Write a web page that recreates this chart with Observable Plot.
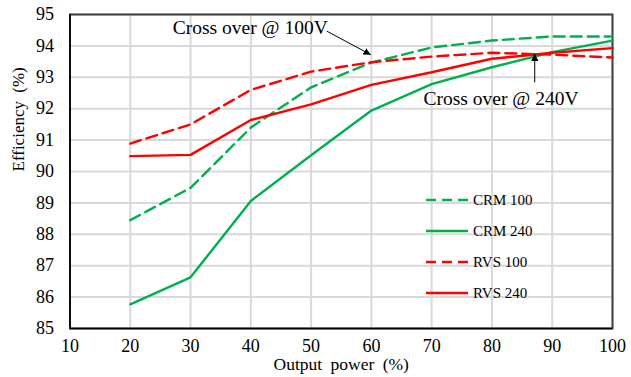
<!DOCTYPE html>
<html>
<head>
<meta charset="utf-8">
<script src="https://cdn.jsdelivr.net/npm/d3@7"></script>
<script src="https://cdn.jsdelivr.net/npm/@observablehq/plot@0.6"></script>
<style>
  html, body { margin: 0; padding: 0; background: #fff; }
  #chart { width: 631px; height: 377px; }
  #chart svg, #chart svg text { font-family: "Liberation Serif", "Times New Roman", "DejaVu Serif", serif !important; }
</style>
</head>
<body>
<div id="chart"></div>
<script>
// Output power (%) at each measurement point
const outputPower = [20, 30, 40, 50, 60, 70, 80, 90, 100];

// Efficiency (%) per converter / line voltage
const crm100 = [88.45, 89.48, 91.4, 92.68, 93.47, 93.95, 94.17, 94.3, 94.3];
const crm240 = [85.77, 86.63, 89.06, 90.52, 91.94, 92.78, 93.32, 93.8, 94.17];
const rvs100 = [90.89, 91.5, 92.6, 93.18, 93.48, 93.66, 93.78, 93.72, 93.63];
const rvs240 = [90.49, 90.53, 91.64, 92.14, 92.76, 93.16, 93.59, 93.78, 93.93];

const xTicks = [10, 20, 30, 40, 50, 60, 70, 80, 90, 100];
const yTicks = [85, 86, 87, 88, 89, 90, 91, 92, 93, 94, 95];

const seriesNames = ["CRM 100", "CRM 240", "RVS 100", "RVS 240"];
const seriesValues = [crm100, crm240, rvs100, rvs240];
const seriesColors = ["#00b050", "#00b050", "#ff0000", "#ff0000"];
const seriesDash = ["11,6", null, "11,6", null];

// Crossover call-outs: label position, arrow start and arrow tip in data units
const callouts = [
  {label: "Cross over @ 100V", x1: 52.6, y1: 94.47, x2: 59.9, y2: 93.72, tx: 39.9, ty: 94.59},
  {label: "Cross over @ 240V", x1: 87.1, y1: 92.84, x2: 87.1, y2: 93.75, tx: 81.5, ty: 92.32}
];

const rows = seriesNames.flatMap((name, i) =>
  outputPower.map((p, j) => ({series: name, power: p, eff: seriesValues[i][j]}))
);

const font = "Liberation Serif, Times New Roman, serif";

const lineMarks = seriesNames.map((name, i) =>
  Plot.line(rows.filter(d => d.series === name), {
    x: "power", y: "eff",
    stroke: seriesColors[i],
    strokeWidth: 2.4,
    strokeDasharray: seriesDash[i] ?? undefined,
    strokeLinejoin: "miter"
  })
);

const chart = Plot.plot({
  width: 631,
  height: 377,
  marginLeft: 69.5,
  marginRight: 19,
  marginTop: 14,
  marginBottom: 49,
  style: {fontFamily: font, fontSize: "17px", color: "#000", background: "#fff"},
  x: {domain: [10, 100], ticks: xTicks},
  y: {domain: [85, 95], ticks: yTicks},
  marks: [
    Plot.gridX(xTicks, {stroke: "#d9d9d9", strokeOpacity: 1, strokeWidth: 2}),
    Plot.gridY(yTicks, {stroke: "#d9d9d9", strokeOpacity: 1, strokeWidth: 2}),
    Plot.axisX(xTicks, {tickSize: 0, tickPadding: 11, fontSize: 18, label: null}),
    Plot.axisY(yTicks, {tickSize: 0, tickPadding: 16, fontSize: 18, label: null}),
    Plot.frame({stroke: "#404040", strokeWidth: 2}),
    Plot.ruleX([10], {stroke: "#000", strokeWidth: 1.6}),
    Plot.ruleY([85], {stroke: "#000", strokeWidth: 1.6}),
    ...lineMarks,
    Plot.link(callouts, {x1: "x1", y1: "y1", x2: "x2", y2: "y2", stroke: "#000", strokeWidth: 1, markerEnd: "arrow"}),
    Plot.text(callouts, {x: "tx", y: "ty", text: "label", fontSize: 19.5, fill: "#000", textAnchor: "middle"}),
    Plot.text(["Output power (%)"], {frameAnchor: "bottom", dy: 41, fontSize: 17.5, fill: "#000", text: d => d}),
    Plot.text(["Efficiency (%)"], {frameAnchor: "left", dx: -51, rotate: -90, fontSize: 17, fill: "#000", text: d => d})
  ]
});

// Wider word gaps in the axis titles
d3.select(chart).selectAll("text")
  .filter(function () { return /Output power|Efficiency/.test(this.textContent); })
  .style("word-spacing", "4px");

// Filled arrowheads for the call-outs
d3.select(chart).selectAll("marker").each(function () {
  const m = d3.select(this);
  m.attr("markerUnits", "userSpaceOnUse").attr("markerWidth", 14).attr("markerHeight", 14)
   .attr("viewBox", "-7 -7 14 14").attr("refX", 0).attr("refY", 0);
  m.selectAll("path")
   .attr("d", "M-8,-4L0,0L-8,4Z")
   .attr("fill", "#000").attr("stroke", "none");
});

// Legend inside the plot area
const svg = d3.select(chart);
const legend = svg.append("g").attr("font-family", font).attr("font-size", 15).attr("text-anchor", "start");
seriesNames.forEach((name, i) => {
  const y = 200 + i * 31;
  legend.append("line")
    .attr("x1", 426).attr("x2", 468).attr("y1", y).attr("y2", y)
    .attr("stroke", seriesColors[i]).attr("stroke-width", 2.4)
    .attr("stroke-dasharray", seriesDash[i] ? "10,6" : null);
  legend.append("text")
    .attr("x", 473).attr("y", y).attr("dy", "0.35em")
    .attr("fill", "#000").text(name);
});

document.getElementById("chart").appendChild(chart);
</script>
</body>
</html>
